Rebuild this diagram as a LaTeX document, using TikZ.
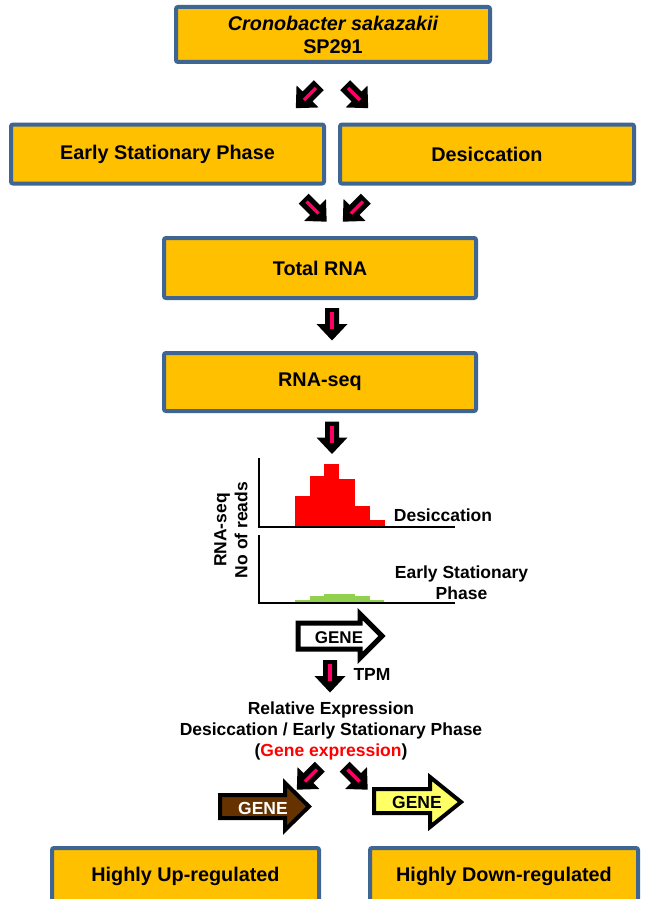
\documentclass[tikz,border=0pt]{standalone}
\usepackage{fontspec}
\setmainfont{Liberation Sans}
\definecolor{boxfill}{HTML}{FFC000}
\definecolor{boxblue}{HTML}{3F6593}
\definecolor{pinkc}{HTML}{FF0066}
\definecolor{greenc}{HTML}{92D050}
\definecolor{brownc}{HTML}{663300}
\definecolor{yellowc}{HTML}{FFFF66}
\begin{document}
\begin{tikzpicture}[x=1pt,y=-1pt,
  box/.style={draw=boxblue, line width=4pt, fill=boxfill, rounded corners=2pt,
    font=\bfseries\fontsize{19.8}{23}\selectfont, align=center, inner sep=0pt},
  lbl/.style={font=\bfseries\fontsize{17.5}{21}\selectfont, align=center, inner sep=0pt},
  axisline/.style={black, line width=1.5pt},
  genearrow/.style={draw=black, line width=4pt, miter limit=3},
  flowarrow/.pic={
    \fill[black] (-16,-7) -- (0,-7) -- (0,-15.5) -- (16.5,0) -- (0,15.5) -- (0,7) -- (-16,7) -- cycle;
    \draw[pinkc, line width=3.5pt] (-12,0) -- (5,0);
  }]
\useasboundingbox (0,0) rectangle (646,899);
\clip (0,0) rectangle (646,899);

% boxes
\node[box, minimum width=314pt, minimum height=55pt] (top) at (333,34.5)
  {\itshape Cronobacter sakazakii\\SP291};
\node[box, minimum width=313pt, minimum height=59pt] (early) at (167.5,154) {Early Stationary Phase};
\node[box, minimum width=294pt, minimum height=59pt] (desic) at (487,154) {Desiccation};
\node[box, minimum width=312pt, minimum height=60pt] (total) at (320,268) {Total RNA};
\node[box, minimum width=312pt, minimum height=58pt] (rnaseq) at (320,382) {RNA-seq};
\node[box, minimum width=267pt, minimum height=56pt] (up) at (185.5,876) {Highly Up-regulated};
\node[box, minimum width=268pt, minimum height=56pt] (down) at (504,876) {Highly Down-regulated};

% flow arrows
\pic[rotate=-135] at (307.5,96.5) {flowarrow};
\pic[rotate=-45] at (356.5,96.5) {flowarrow};
\pic[rotate=-45] at (315,210) {flowarrow};
\pic[rotate=-135] at (354.5,210) {flowarrow};
\pic[rotate=-90] at (332,324) {flowarrow};
\pic[rotate=-90] at (332,437.5) {flowarrow};
\pic[rotate=-90] at (330,676) {flowarrow};
\pic[rotate=-135] at (308.5,778) {flowarrow};
\pic[rotate=-45] at (356,778) {flowarrow};

% chart
\fill[red] (295,527) rectangle (310,496);
\fill[red] (310,527) rectangle (324,476);
\fill[red] (324,527) rectangle (339,464);
\fill[red] (339,527) rectangle (355,479);
\fill[red] (355,527) rectangle (370,506);
\fill[red] (370,527) rectangle (385,520);
\fill[greenc] (295,603) rectangle (310,600);
\fill[greenc] (310,603) rectangle (324,595.5);
\fill[greenc] (324,603) rectangle (355,594);
\fill[greenc] (355,603) rectangle (370,595.5);
\fill[greenc] (370,603) rectangle (384,600);
\draw[axisline] (259,458) -- (259,527) -- (455,527);
\draw[axisline] (259,535) -- (259,603) -- (455,603);
\node[lbl] (desl) at (443,515) {Desiccation};
\node[lbl] (esl) at (461.5,583) {Early Stationary\\Phase};
\node[lbl, rotate=90] (ylab) at (231,530) {RNA-seq\\No of reads};

% outlined gene arrow
\draw[genearrow, line width=5pt, fill=white] (298,623) -- (360,623) -- (360,614) -- (382,636)
  -- (360,658) -- (360,649) -- (298,649) -- cycle;
\node[lbl, font=\bfseries\fontsize{17}{20}\selectfont] (gene1) at (339,638) {GENE};
\node[lbl] (tpm) at (372,674) {TPM};

% relative expression
\node[lbl] (rel) at (331,730.5) {Relative Expression\\Desiccation / Early Stationary Phase\\(\textcolor{red}{Gene expression})};

% brown and yellow arrows
\draw[genearrow, fill=brownc] (220,795) -- (285,795) -- (285,783) -- (309,806.5)
  -- (285,830) -- (285,818) -- (220,818) -- cycle;
\node[lbl, text=white] (gene2) at (263,808) {GENE};
\draw[genearrow, fill=yellowc] (374,789) -- (430,789) -- (430,777) -- (461,802)
  -- (430,827) -- (430,813) -- (374,813) -- cycle;
\node[lbl] (gene3) at (417,802) {GENE};
\end{tikzpicture}
\end{document}
